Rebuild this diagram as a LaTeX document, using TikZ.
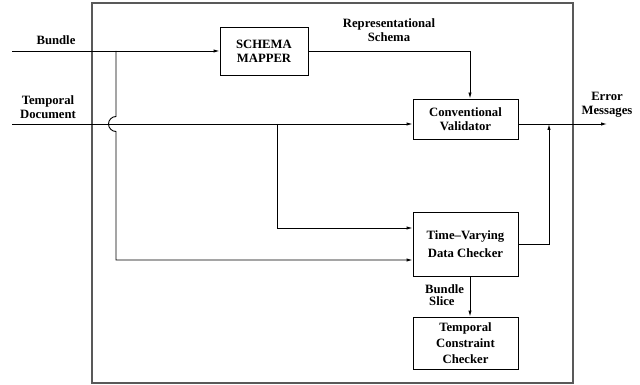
\documentclass[tikz,border=0pt]{standalone}
\usepackage{fontspec}
\setmainfont{Liberation Serif}
\usetikzlibrary{arrows.meta,positioning}
\begin{document}
\begin{tikzpicture}[x=1pt, y=-1pt, > = {Latex[length=6pt,width=3.4pt]},
    every node/.style={font=\fontsize{12.7}{15}\selectfont\bfseries},
    block/.style={draw, line width=0.9pt, inner sep=0pt, align=center},
    lbl/.style={align=center, inner sep=0pt},
    wire/.style={line width=0.9pt}]
    \useasboundingbox (0,0) rectangle (640,385);
    % Frame
    \draw [line width=1.2pt, black!65] (92,3) rectangle (573,383);
    %% Blocks
    \node [block, minimum width=88pt, minimum height=48pt] (mapper) at (264,51)
        {SCHEMA\\[-1pt]MAPPER};
    \node [block, minimum width=105pt, minimum height=40pt] (validator) at (465.5,119)
        {Conventional\\[-1pt]Validator};
    \node [block, minimum width=105pt, minimum height=64pt] (tvchecker) at (465.5,244)
        {Time--Varying\\[3pt]Data Checker};
    \node [block, minimum width=105pt, minimum height=52pt] (tcchecker) at (465.5,343)
        {Temporal\\[1pt]Constraint\\[1pt]Checker};
    %% Free ends and branch points
    \coordinate (bundlein) at (12,51);
    \coordinate (docin) at (12,124);
    \coordinate (bundlesplit) at (116,51);
    \coordinate (docsplit) at (277,124);
    \coordinate (errjoin) at (549,124);
    \coordinate (errout) at (607,124);
    %% Connectors
    \draw [wire, ->] (bundlein) -- (mapper.west);
    \draw [wire, ->] (docin) -- (docin -| validator.west);
    \draw [wire, ->] (mapper.east) -| ([xshift=4.5pt]validator.north);
    \draw [wire, ->] (validator.east |- errout) -- (errout);
    \draw [wire, ->] (tvchecker.east) -| (errjoin);
    \draw [wire, ->] ([xshift=4.5pt]tvchecker.south) -- ([xshift=4.5pt]tcchecker.north);
    \draw [wire, ->] (docsplit) |- ([yshift=16pt]tvchecker.west);
    \draw [wire, ->] (bundlesplit) -- (116,116.5)
        arc [start angle=90, end angle=270, radius=7.5pt]
        -- (116,260) -- ([yshift=-16pt]tvchecker.west);
    %% Annotations
    \node [lbl] (bundlelbl) at (56,40) {Bundle};
    \node [lbl] (doclbl) at (48,107) {Temporal\\[-1pt]Document};
    \node [lbl] (schemalbl) at (389,30) {Representational\\[-1pt]Schema};
    \node [lbl] (errlbl) at (607,105) {Error\\[-1pt]Messages};
    \node [lbl, align=left, anchor=west] (slicelbl) at (425,295)
        {Bundle\\[-3pt]\hspace*{4pt}Slice};
\end{tikzpicture}
\end{document}
